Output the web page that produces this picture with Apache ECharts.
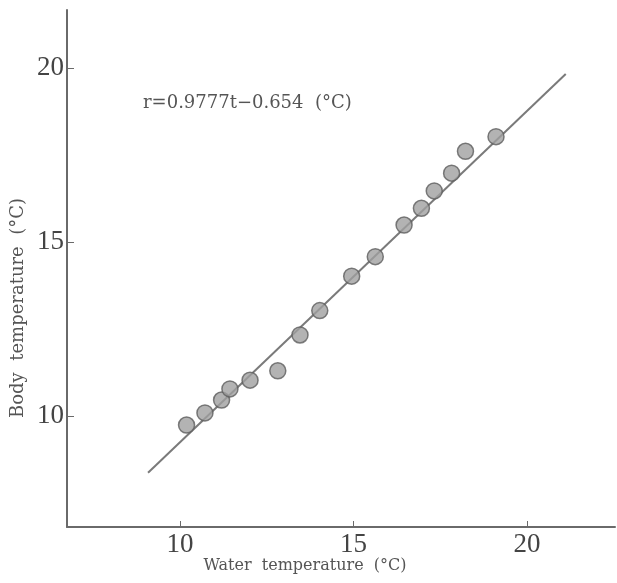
<!DOCTYPE html>
<html>
<head>
<meta charset="utf-8">
<script src="https://cdn.jsdelivr.net/npm/echarts@6/dist/echarts.min.js"></script>
<style>
  html, body { margin: 0; padding: 0; background: #fff; }
  #chart { width: 617px; height: 583px; }
</style>
</head>
<body>
<div id="chart"></div>
<script>
// water temperature t (°C) vs body temperature (°C)
var waterTemp = [10.19, 10.72, 11.20, 11.44, 12.02, 12.82, 13.46, 14.03, 14.95, 15.63, 16.46, 16.96, 17.33, 17.83, 18.23, 19.11];
var bodyTemp  = [9.74, 10.09, 10.46, 10.78, 11.03, 11.30, 12.33, 13.03, 14.02, 14.58, 15.49, 15.97, 16.47, 16.98, 17.61, 18.03];
// ends of the drawn regression line
var fitX = [9.08, 21.12];
var fitY = [8.37, 19.83];
var tickValues = [10, 15, 20];

var points = [];
for (var i = 0; i < waterTemp.length; i++) {
    points.push([waterTemp[i], bodyTemp[i]]);
}
var fitLine = [];
for (var j = 0; j < fitX.length; j++) {
    fitLine.push([fitX[j], fitY[j]]);
}

var axisCol = '#6a6a6a';
var labelFont = "'Liberation Serif', serif";

var chart = echarts.init(document.getElementById('chart'));
chart.setOption({
    backgroundColor: '#fff',
    animation: false,
    grid: { left: 67, right: 2, top: 10, bottom: 56 },
    xAxis: {
        type: 'value',
        min: 6.744,
        max: 22.54,
        axisLine: { lineStyle: { color: axisCol, width: 2 } },
        axisTick: { show: true, inside: true, length: 6, customValues: tickValues, lineStyle: { color: axisCol } },
        axisLabel: { customValues: tickValues, margin: 4, color: '#444', fontFamily: labelFont, fontSize: 27 },
        splitLine: { show: false }
    },
    yAxis: {
        type: 'value',
        min: 6.81,
        max: 21.67,
        axisLine: { show: true, lineStyle: { color: axisCol, width: 2 } },
        axisTick: { show: true, inside: true, length: 7, customValues: tickValues, lineStyle: { color: axisCol } },
        axisLabel: { customValues: tickValues, margin: 3, color: '#444', fontFamily: labelFont, fontSize: 27, padding: [8, 0, 0, 0] },
        splitLine: { show: false }
    },
    graphic: [
        {
            type: 'text', left: 143, top: 94,
            style: { text: 'r=0.9777t\u22120.654  (°C)', font: "18px 'DejaVu Serif', serif", fill: '#555' }
        },
        {
            type: 'text', x: 305, y: 566,
            style: { text: 'Water  temperature  (°C)', font: "16px 'DejaVu Serif', serif", fill: '#555', align: 'center', verticalAlign: 'middle' }
        },
        {
            type: 'text', x: 18, y: 308, rotation: Math.PI / 2,
            style: { text: 'Body  temperature  (°C)', font: "18px 'DejaVu Serif', serif", fill: '#555', align: 'center', verticalAlign: 'middle' }
        }
    ],
    series: [
        {
            name: 'fit',
            type: 'line',
            data: fitLine,
            symbol: 'none',
            lineStyle: { color: '#7a7a7a', width: 2 },
            z: 2
        },
        {
            name: 'data',
            type: 'scatter',
            data: points,
            symbol: 'circle',
            symbolSize: 16,
            itemStyle: { color: '#a0a0a0', borderColor: '#5e5e5e', borderWidth: 1.5 },
            z: 3
        }
    ]
});
</script>
</body>
</html>
